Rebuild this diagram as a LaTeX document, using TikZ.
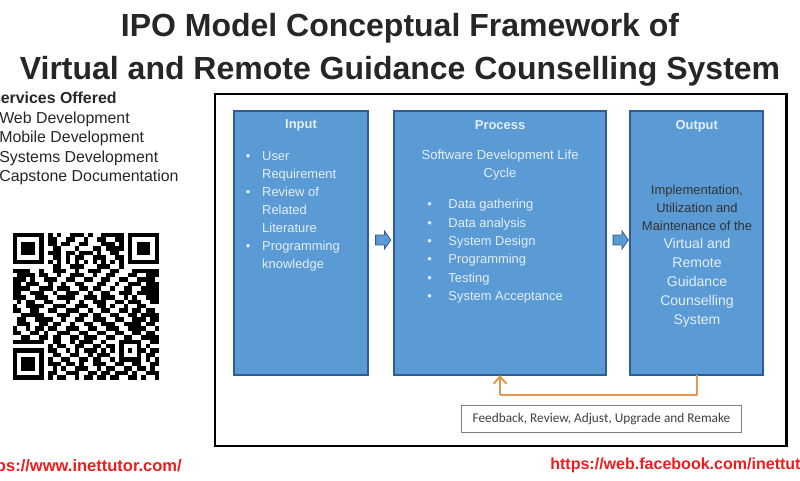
\documentclass[tikz,border=0pt]{standalone}
\usepackage{fontspec}
\setmainfont{Liberation Sans}
\newfontfamily\feedbackfont{Carlito}
\usetikzlibrary{positioning}
\usetikzlibrary{shapes.arrows,arrows.meta}
\definecolor{boxblue}{HTML}{5B9BD5}
\definecolor{boxedge}{HTML}{2F5C94}
\definecolor{boxtext}{HTML}{E4EEF8}
\definecolor{fbline}{HTML}{E8954F}
\definecolor{linkred}{HTML}{EE1C1C}
\newcommand{\blt}{\makebox[0.41cm][l]{\textbullet}}
\newcommand{\bltwide}{\makebox[0.53cm][l]{\textbullet}}
\newcommand{\qrmod}{4.44}

\begin{document}
\begin{tikzpicture}[x=0.025cm, y=-0.025cm,
    titletext/.style={font=\bfseries\fontsize{22.75}{28}\selectfont, text=black!85, inner sep=0},
    sidetext/.style={font=\fontsize{11.3}{13.9}\selectfont, text=black!85, align=left, anchor=north west, inner sep=0},
    linktext/.style={font=\bfseries\fontsize{11.4}{14}\selectfont, text=linkred, inner sep=0},
    ipobox/.style={draw=boxedge, line width=0.05cm, fill=boxblue, minimum height=6.6cm, outer sep=0, inner sep=0},
    boxhead/.style={font=\bfseries\fontsize{9.2}{12}\selectfont, text=boxtext, inner sep=0},
    boxbody/.style={font=\fontsize{9.2}{12.8}\selectfont, text=boxtext, align=left, inner sep=0},
    blockarrow/.style={shape=single arrow, draw=boxedge, fill=boxblue, line width=0.02cm, minimum width=0.45cm,
      minimum height=0.38cm, single arrow head extend=0.1cm, single arrow tip angle=110, inner xsep=0.04cm, inner ysep=0.11cm}]
      \useasboundingbox (0,0) rectangle (800,480);
      \node(title1) [titletext] at (400,28) {IPO Model Conceptual Framework of};
      \node(title2) [titletext] at (400,71) {Virtual and Remote Guidance Counselling System};

      \node(services) [sidetext] at (-10,92) {\textbf{Services Offered}};
      \node(offered) [sidetext, below=0.18cm of services.south west, anchor=north west, xshift=0.225cm] {Web Development\\Mobile Development\\Systems Development\\Capstone Documentation};

      % qr code
      \foreach \qx/\qy in {0/0,26/0,0/26} {
        \fill[black] (12.6+\qx*\qrmod,233+\qy*\qrmod) rectangle ++(7*\qrmod,7*\qrmod);
        \fill[white] (12.6+\qx*\qrmod+\qrmod,233+\qy*\qrmod+\qrmod) rectangle ++(5*\qrmod,5*\qrmod);
        \fill[black] (12.6+\qx*\qrmod+2*\qrmod,233+\qy*\qrmod+2*\qrmod) rectangle ++(3*\qrmod,3*\qrmod);
      }
      \foreach \qrow/\qruns in {
        0/{8/8,10/10,13/15,17/17,20/24},
        1/{8/9,12/13,16/16,19/20,23/24},
        2/{8/9,11/12,15/16,20/22,24/24},
        3/{9/10,14/14,18/19,21/24},
        4/{8/10,12/13,15/17,19/19,22/23},
        5/{9/10,12/12,14/15,18/20,23/24},
        6/{8/8,10/10,12/12,14/14,16/16,18/18,20/20,22/22,24/24},
        7/{9/10,13/15,19/21,24/24},
        8/{0/3,6/6,9/11,14/14,17/19,22/23,27/32},
        9/{1/4,6/7,10/10,13/15,18/18,21/22,26/27,30/32},
        10/{0/2,4/4,7/9,12/13,16/17,20/21,24/25,28/31},
        11/{0/1,3/5,8/8,11/11,14/15,19/20,23/23,26/28,30/32},
        12/{0/3,6/8,10/12,15/16,18/19,22/22,25/26,29/32},
        13/{0/1,4/6,9/9,12/14,17/17,20/21,24/26,28/32},
        14/{0/2,5/7,10/13,16/18,20/22,25/25,27/27,30/32},
        15/{1/1,3/4,7/8,12/12,15/15,18/20,23/24,26/28,31/32},
        16/{0/0,3/6,9/11,14/16,19/20,22/22,25/25,28/29},
        17/{0/1,4/5,8/9,12/14,17/17,20/21,24/25,27/28,30/31},
        18/{2/6,10/12,15/16,18/19,22/23,26/27,29/32},
        19/{1/2,5/8,11/11,14/15,18/20,23/24,27/29,31/32},
        20/{1/3,6/7,9/10,13/13,16/17,20/22,25/28,30/31},
        21/{0/0,3/3,5/6,8/9,12/14,17/18,21/23,26/29,32/32},
        22/{0/1,4/5,7/7,10/12,15/16,19/20,23/24,27/28,30/31},
        23/{2/3,6/7,9/10,13/14,16/18,21/22,25/26,29/32},
        24/{0/6,9/10,13/13,15/17,20/20,24/28,31/32},
        25/{8/8,10/11,14/15,18/19,21/22,24/24,28/28,30/30},
        26/{8/9,12/12,14/14,16/18,20/20,22/22,24/24,26/26,28/29,31/32},
        27/{9/10,13/14,17/17,19/21,24/24,28/28,30/31},
        28/{8/8,11/12,15/16,18/19,22/22,24/28,30/30,32/32},
        29/{8/10,12/13,15/15,18/20,23/24,27/28,31/32},
        30/{9/9,11/11,14/16,19/19,21/22,25/26,28/29,31/31},
        31/{8/9,12/14,17/18,20/21,23/25,27/27,30/32},
        32/{8/8,10/11,14/14,16/17,19/20,22/23,26/27,29/29,32/32}} {
        \foreach \qa/\qb in \qruns {
          \fill[black] (12.6+\qa*\qrmod,233+\qrow*\qrmod) rectangle (12.6+\qb*\qrmod+\qrmod,233+\qrow*\qrmod+\qrmod);
        }
      }

      \node(frame) [draw=black, line width=0.07cm, minimum width=14.28cm, minimum height=8.8cm, anchor=north west, outer sep=0] at (215,94) {};
      \node(input) [ipobox, minimum width=3.35cm, anchor=north west] at (234,111) {};
      \node(process) [ipobox, minimum width=5.3cm, right=0.65cm of input] {};
      \node(output) [ipobox, minimum width=3.33cm, right=0.6cm of process] {};

      \node(inputhead) [boxhead, below=0.21cm of input.north] {Input};
      \node(processhead) [boxhead, below=0.23cm of process.north] {Process};
      \node(outputhead) [boxhead, below=0.24cm of output.north] {Output};

      \node(inputlist) [boxbody, anchor=north west] at (245.5,151) {\blt User\\\hspace*{0.41cm}Requirement\\\blt Review of\\\hspace*{0.41cm}Related\\\hspace*{0.41cm}Literature\\\blt Programming\\\hspace*{0.41cm}knowledge};
      \node(sdlc) [boxbody, align=center, below=0.97cm of process.north, font=\fontsize{9.3}{12.8}\selectfont] {Software Development Life\\Cycle};
      \node(processlist) [boxbody, anchor=north west, font=\fontsize{9.2}{13.1}\selectfont] at (427,199) {\bltwide Data gathering\\\bltwide Data analysis\\\bltwide System Design\\\bltwide Programming\\\bltwide Testing\\\bltwide System Acceptance};
      \node(impl) [boxbody, align=center, text=black!80, anchor=north] at (697,185) {Implementation,\\Utilization and\\Maintenance of the};
      \node(virtual) [boxbody, align=center, anchor=north, font=\fontsize{10}{13.6}\selectfont] at (697,238) {Virtual and\\Remote\\Guidance\\Counselling\\System};

      \node(arrow1) [blockarrow] at (381.5,240) {};
      \node(arrow2) [blockarrow] at (619,240) {};

      \node(feedback) [draw=black!50, line width=0.025cm, fill=white, minimum width=7.02cm, minimum height=0.69cm, anchor=north west, outer sep=0, inner sep=0, text=black!75, font=\feedbackfont\fontsize{9.47}{11}\selectfont] at (461,405) {Feedback, Review, Adjust, Upgrade and Remake};
      \coordinate(turn) at (process.south |- 0,395);

      \draw[fbline, line width=0.05cm, line join=round] (output.south) |- (turn);
      \draw[fbline, line width=0.05cm, line join=round, -{Straight Barb[length=1.8mm,width=3.2mm]}] (turn) -- (process.south);

      \node(link1) [linktext, anchor=east, font=\bfseries\fontsize{11.75}{14}\selectfont] at (182,467) {https://www.inettutor.com/};
      \node(link2) [linktext, anchor=west] at (550,465) {https://web.facebook.com/inettutor};
    \end{tikzpicture}
\end{document}
